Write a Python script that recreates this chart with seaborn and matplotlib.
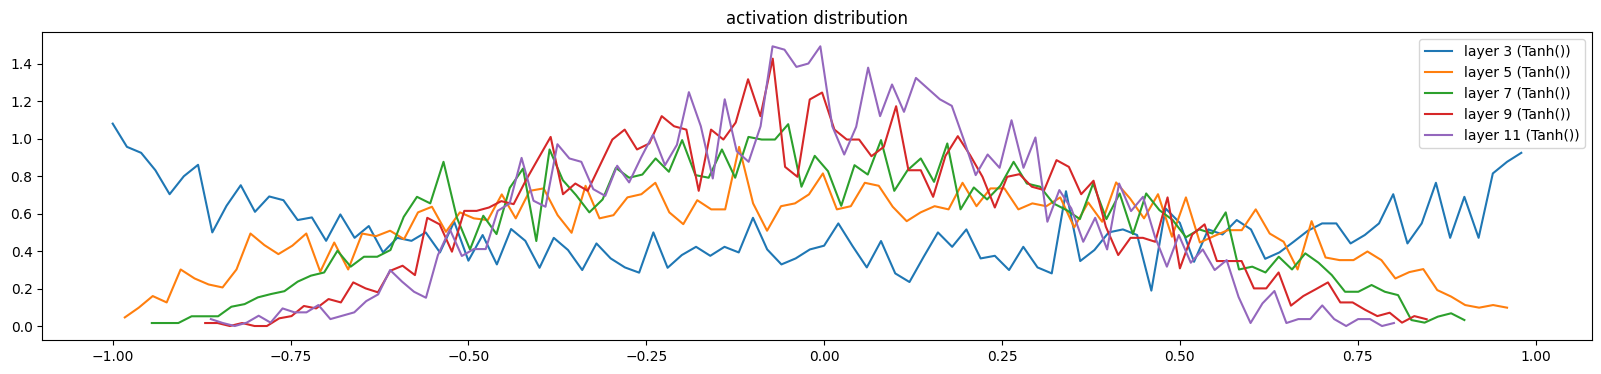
import numpy as np
import pandas as pd
import matplotlib
matplotlib.use("Agg")
import matplotlib.pyplot as plt
import seaborn as sns

# 每层 tanh 输出的直方图（density=True），x 为各 bin 的左边缘
layer_names = ['layer 3 (Tanh())', 'layer 5 (Tanh())', 'layer 7 (Tanh())',
               'layer 9 (Tanh())', 'layer 11 (Tanh())']

# 每层第一个和最后一个 bin 的左边缘（100 个 bin）
x_first = [-1.000, -0.983, -0.945, -0.870, -0.862]
x_last = [0.980, 0.960, 0.900, 0.847, 0.801]

layer3 = [1.081, 0.957, 0.925, 0.832, 0.704, 0.800, 0.861, 0.500, 0.642, 0.752, 0.610, 0.692, 0.672,
          0.566, 0.580, 0.455, 0.596, 0.471, 0.534, 0.393, 0.471, 0.455, 0.500, 0.393, 0.557,
          0.349, 0.486, 0.329, 0.518, 0.455, 0.311, 0.471, 0.406, 0.299, 0.441, 0.361, 0.313, 0.285,
          0.500, 0.311, 0.379, 0.423, 0.375, 0.423, 0.393, 0.578, 0.409, 0.329, 0.361, 0.409, 0.429,
          0.548, 0.427, 0.313, 0.454, 0.281, 0.235, 0.370, 0.500, 0.423, 0.516, 0.361, 0.375,
          0.299, 0.423, 0.313, 0.281, 0.720, 0.347, 0.406, 0.500, 0.516, 0.486, 0.189, 0.628, 0.551,
          0.343, 0.516, 0.489, 0.566, 0.516, 0.359, 0.393, 0.450, 0.509, 0.548, 0.548, 0.441, 0.486,
          0.548, 0.704, 0.441, 0.548, 0.765, 0.471, 0.690, 0.471, 0.815, 0.877, 0.925]

layer5 = [0.046, 0.098, 0.160, 0.126, 0.302, 0.254, 0.222, 0.206, 0.302, 0.494, 0.432, 0.384,
          0.429, 0.494, 0.290, 0.446, 0.302, 0.494, 0.480, 0.509, 0.464, 0.607, 0.637, 0.503, 0.607,
          0.575, 0.566, 0.703, 0.575, 0.722, 0.735, 0.592, 0.498, 0.749, 0.575, 0.592, 0.687, 0.704,
          0.765, 0.607, 0.544, 0.672, 0.623, 0.623, 0.957, 0.655, 0.509, 0.640, 0.655, 0.703, 0.815,
          0.623, 0.640, 0.765, 0.749, 0.637, 0.560, 0.607, 0.640, 0.623, 0.765, 0.640, 0.735, 0.735,
          0.623, 0.655, 0.640, 0.687, 0.527, 0.660, 0.557, 0.767, 0.681, 0.575, 0.704, 0.477, 0.687,
          0.446, 0.480, 0.512, 0.512, 0.623, 0.494, 0.450, 0.302, 0.560, 0.366, 0.352, 0.352, 0.398,
          0.352, 0.254, 0.288, 0.304, 0.192, 0.157, 0.112, 0.098, 0.112, 0.098]

layer7 = [0.016, 0.016, 0.016, 0.052, 0.052, 0.052, 0.103, 0.117, 0.153, 0.171, 0.186,
          0.237, 0.269, 0.286, 0.402, 0.317, 0.370, 0.370, 0.406, 0.583, 0.690, 0.655, 0.877, 0.580,
          0.409, 0.589, 0.491, 0.738, 0.841, 0.454, 0.943, 0.779, 0.699, 0.607, 0.676, 0.845, 0.792, 0.809,
          0.895, 0.824, 0.993, 0.806, 0.792, 0.943, 0.792, 1.010, 0.996, 0.996, 1.078, 0.744, 0.909,
          0.827, 0.642, 0.859, 0.809, 0.993, 0.722, 0.832, 0.895, 0.770, 0.975, 0.623, 0.740, 0.676,
          0.749, 0.877, 0.761, 0.744, 0.655, 0.619, 0.571, 0.761, 0.571, 0.708, 0.491, 0.708, 0.619, 0.566, 0.474,
          0.516, 0.494, 0.607, 0.302, 0.317, 0.286, 0.370, 0.302, 0.388, 0.338, 0.272, 0.183, 0.183,
          0.219, 0.183, 0.165, 0.032, 0.018, 0.050, 0.068, 0.032]

layer9 = [0.016, 0.016, 0.000, 0.016, 0.000, 0.000, 0.041,
          0.053, 0.107, 0.094, 0.144, 0.126, 0.233, 0.201, 0.180, 0.295, 0.322, 0.272, 0.578, 0.543, 0.397, 0.615,
          0.615, 0.633, 0.667, 0.651, 0.779, 0.895, 1.010, 0.704, 0.761, 0.722, 0.859, 0.996, 1.049, 0.943,
          0.975, 1.121, 1.067, 1.049, 0.722, 1.049, 0.996, 1.087, 1.318, 1.121, 1.428, 0.850, 0.797, 1.210, 1.247,
          1.049, 0.996, 0.996, 0.907, 0.957, 1.174, 0.832, 0.832, 0.690, 0.909, 1.014, 0.912, 0.797, 0.633,
          0.797, 0.811, 0.744, 0.726, 0.886, 0.850, 0.704, 0.776, 0.530, 0.379, 0.471, 0.471, 0.450, 0.687, 0.308,
          0.489, 0.543, 0.347, 0.347, 0.347, 0.201, 0.201, 0.286, 0.109, 0.160, 0.196, 0.233, 0.126, 0.126, 0.087,
          0.053, 0.071, 0.018, 0.053, 0.036]

layer11 = [0.037, 0.016, 0.000, 0.018, 0.055, 0.018, 0.094,
           0.073, 0.073, 0.112, 0.037, 0.055, 0.073, 0.133, 0.169, 0.299, 0.237, 0.183, 0.151, 0.379, 0.516, 0.374,
           0.411, 0.411, 0.615, 0.655, 0.898, 0.669, 0.637, 0.971, 0.895, 0.877, 0.731, 0.695, 0.856, 0.767, 0.900,
           1.022, 0.859, 0.968, 1.249, 1.067, 0.788, 1.211, 0.934, 0.877, 1.067, 1.494, 1.476, 1.384, 1.402, 1.494,
           1.067, 0.916, 1.064, 1.380, 1.121, 1.290, 1.144, 1.325, 1.268, 1.211, 1.176, 0.996, 0.806, 0.916, 0.845,
           1.099, 0.845, 1.007, 0.557, 0.726, 0.628, 0.450, 0.578, 0.409, 0.761, 0.614, 0.690, 0.477, 0.317, 0.486,
           0.338, 0.409, 0.299, 0.352, 0.155, 0.016, 0.121, 0.187, 0.016, 0.037, 0.037, 0.110, 0.037, 0.000, 0.037,
           0.037, 0.000, 0.016]

values = [layer3, layer5, layer7, layer9, layer11]
colors = ['#1f77b4', '#ff7f0e', '#2ca02c', '#d62728', '#9467bd']

fig = plt.figure(figsize=(16.01, 3.74), dpi=100)
ax = fig.add_subplot(111)
fig.subplots_adjust(left=0.0264, right=0.9942, bottom=0.0909, top=0.9136)

for name, lo, hi, hy, c in zip(layer_names, x_first, x_last, values, colors):
    hx = np.linspace(lo, hi, len(hy))
    df = pd.DataFrame({'x': hx, 'y': hy})
    sns.lineplot(data=df, x='x', y='y', ax=ax, color=c, label=name, linewidth=1.5)

ax.set_xlabel('')
ax.set_ylabel('')
ax.set_title('activation distribution')
ax.legend(loc='upper right')

plt.savefig('out.png', dpi=100)
